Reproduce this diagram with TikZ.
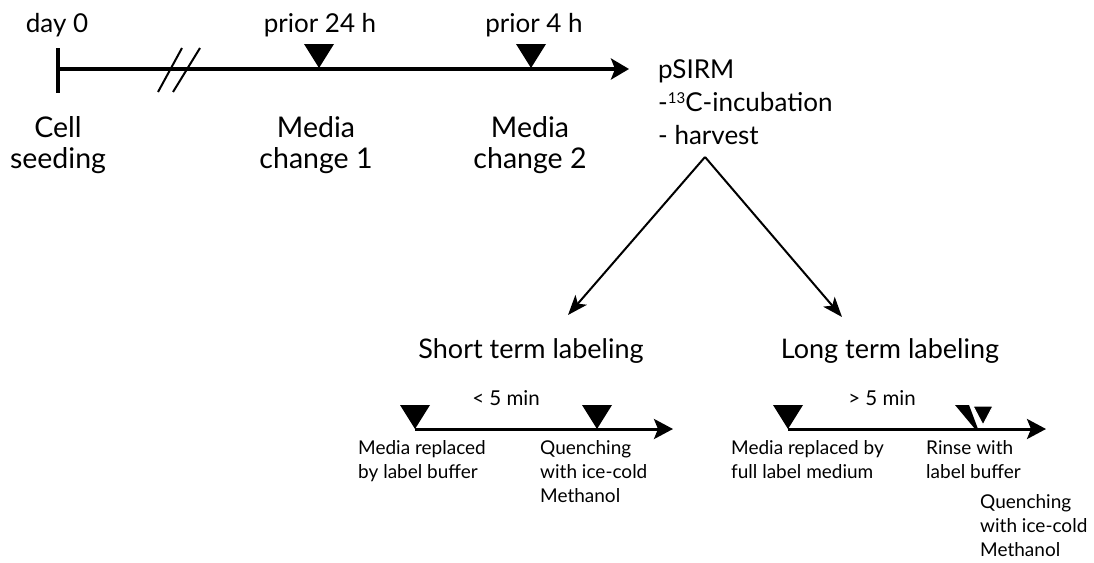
\documentclass[tikz,border=0pt]{standalone}
\usepackage{fontspec}
\setmainfont{Lato}
\usetikzlibrary{arrows.meta}
\tikzset{
  big/.style={font=\fontsize{26}{31}\selectfont, inner sep=0pt},
  event/.style={font=\fontsize{28.5}{31}\selectfont, inner sep=0pt, align=center},
  head/.style={font=\fontsize{27}{31}\selectfont, inner sep=0pt, anchor=base},
  dur/.style={font=\fontsize{20.5}{24}\selectfont, inner sep=0pt, anchor=base},
  small/.style={font=\fontsize{19}{24}\selectfont, inner sep=0pt, align=left, anchor=north west},
  axis/.style={line width=3.5pt, -{Stealth[length=18pt, width=21pt, inset=4pt]}},
  subaxis/.style={line width=3pt, -{Stealth[length=19pt, width=20pt, inset=4pt]}},
  branch/.style={line width=2pt, -{Stealth[length=20pt, width=15pt, inset=5pt]}},
}
% inverted triangle marker with its tip on the given point
\newcommand{\evtri}[3]{\fill (#1,#2) -- ++(-#3/2,-24) -- ++(#3,0) -- cycle;}
\begin{document}
\begin{tikzpicture}[x=1pt,y=-1pt]
\useasboundingbox (0,0) rectangle (1094,562);

% --- main culture timeline ---
\coordinate (t0) at (58,69);
\coordinate (tend) at (629,69);
\draw[line width=3.5pt] (58,48) -- (58,93);
\draw[axis] (t0) -- (tend);
\draw[line width=2pt] (158,92) -- (182,48);
\draw[line width=2pt] (173,92) -- (200,48);
\evtri{319}{68}{30}
\evtri{531}{68}{30}

\node[big, anchor=base] (d0) at (57,32) {day 0};
\node[big, anchor=base] (p24) at (320,32) {prior 24 h};
\node[big, anchor=base] (p4) at (534,32) {prior 4 h};
\node[event] (seed) at (58,145) {Cell\\seeding};
\node[event] (mc1) at (316,145) {Media\\change 1};
\node[event] (mc2) at (530,145) {Media\\change 2};
\node[big, align=left, anchor=west, font=\fontsize{26}{33}\selectfont] (psirm) at (658,102)
  {pSIRM\\-\raisebox{8pt}{\fontsize{15}{15}\selectfont 13}C-incubation\\- harvest};

% --- split into the two labeling schemes ---
\coordinate (split) at (705,157);
\coordinate (sEnd) at (568,315);
\coordinate (lEnd) at (842,317);
\draw[branch] (split) -- (sEnd);
\draw[branch] (split) -- (lEnd);

\node[head] (short) at (531,358) {Short term labeling};
\node[head] (long) at (890,358) {Long term labeling};

% --- short term labeling ---
\coordinate (s0) at (415,429);
\coordinate (s1) at (673,429);
\draw[subaxis] (s0) -- (s1);
\evtri{415}{429}{30}
\evtri{597}{429}{30}
\node[dur] (lt5) at (506,405) {< 5 min};
\node[small] (sa) at (358,440) {Media replaced\\by label buffer};
\node[small] (sb) at (540,440) {Quenching\\with ice-cold\\Methanol};

% --- long term labeling ---
\coordinate (l0) at (788,429);
\coordinate (l1) at (1046,429);
\draw[subaxis] (l0) -- (l1);
\evtri{788}{429}{30}
\fill (955,405) -- (969,405) -- (978,429) -- (975,429) -- cycle;
\filldraw[fill=black, draw=white, line width=1pt] (973,406) -- (993,406) -- (983,425) -- cycle;
\node[dur] (gt5) at (882,405) {> 5 min};
\node[small] (la) at (731,440) {Media replaced by\\full label medium};
\node[small] (lb) at (926,440) {Rinse with\\label buffer};
\node[small] (lc) at (980,494) {Quenching\\with ice-cold\\Methanol};
\end{tikzpicture}
\end{document}
